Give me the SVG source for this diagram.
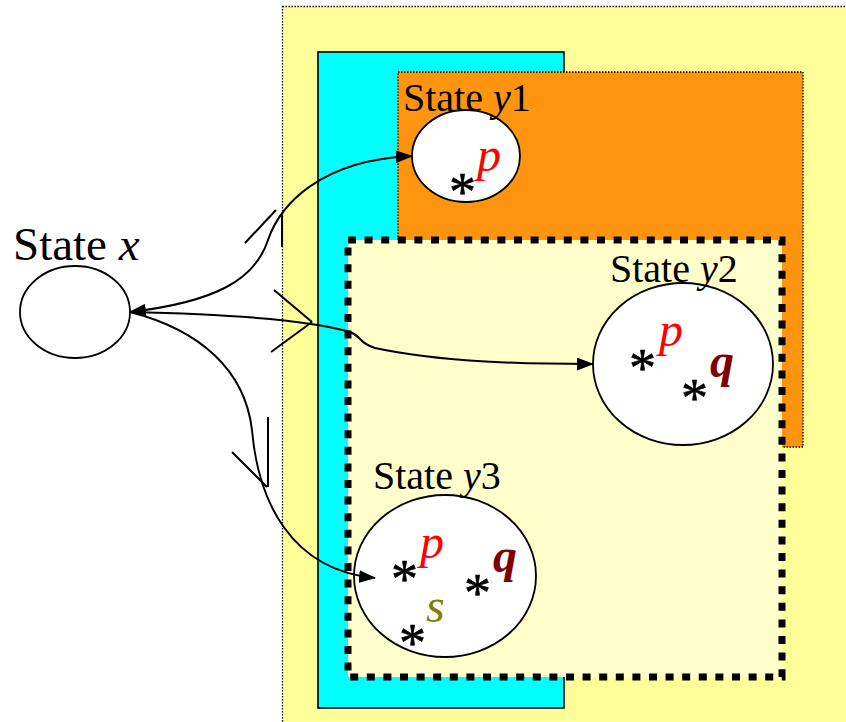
<svg xmlns="http://www.w3.org/2000/svg" width="846" height="722" viewBox="0 0 846 722">
<style>
.lbl{font-family:"Liberation Serif","Times New Roman",serif;font-size:40px;fill:#000}
.it{font-style:italic}
.var{font-family:"Liberation Serif","Times New Roman",serif;font-size:48px;font-style:italic}
.star{font-family:"Liberation Serif","Times New Roman",serif;font-size:54px;fill:#000;stroke:#000;stroke-width:0.6}
.p{fill:#ff0000}
.q{fill:#800000;font-weight:bold}
.s{fill:#808000}
.node{fill:#fff;stroke:#000;stroke-width:1.8}
.thin{stroke:#000;stroke-width:1.3;stroke-dasharray:1.5 1.5}
.conn{fill:none;stroke:#000;stroke-width:2}
</style>
<defs>
<marker id="arr" viewBox="0 0 16 12" refX="15" refY="6" markerWidth="17" markerHeight="13" markerUnits="userSpaceOnUse" orient="auto-start-reverse">
<path d="M0,0 L16,6 L0,12 Z" fill="#000"/>
</marker>
</defs>
<rect width="846" height="722" fill="#fff"/>
<g id="regions">
<rect x="282.5" y="6.5" width="600" height="740" fill="#ffff99" class="thin"/>
<rect x="318" y="52" width="246" height="656" fill="#00ffff" stroke="#000" stroke-width="1.6"/>
<rect x="398" y="72" width="405" height="375" fill="#ff950e" class="thin"/>
<rect x="348" y="240" width="434" height="437" fill="#ffffcc" stroke="#000" stroke-width="7" stroke-dasharray="8 8.6"/>
</g>
<g id="stateX">
<ellipse class="node" cx="75" cy="312" rx="55" ry="46"/>
<text class="lbl" x="13" y="260" style="font-size:47px">State <tspan class="it">x</tspan></text>
</g>
<g id="stateY1">
<ellipse class="node" cx="466" cy="156" rx="54" ry="46"/>
<text class="lbl" x="403" y="111">State <tspan class="it">y</tspan>1</text>
<text class="star" x="449" y="210">*</text>
<text class="var p" x="477" y="171">p</text>
</g>
<g id="stateY2">
<ellipse class="node" cx="683" cy="364" rx="90" ry="81"/>
<text class="lbl" x="610" y="282">State <tspan class="it">y</tspan>2</text>
<text class="star" x="629" y="386">*</text>
<text class="var p" x="659" y="346">p</text>
<text class="star" x="681" y="416">*</text>
<text class="var q" x="710" y="377">q</text>
</g>
<g id="stateY3">
<ellipse class="node" cx="445" cy="576" rx="91" ry="81"/>
<text class="lbl" x="373" y="489">State <tspan class="it">y</tspan>3</text>
<text class="star" x="391" y="597">*</text>
<text class="var p" x="420" y="558">p</text>
<text class="star" x="464" y="611">*</text>
<text class="var q" x="493" y="572">q</text>
<text class="var s" x="426" y="622">s</text>
<text class="star" x="399" y="661">*</text>
</g>
<g id="connectors">
<path class="conn" d="M130,312 C215,302 255,280 268,240 C280,205 320,160 412,156" marker-start="url(#arr)" marker-end="url(#arr)"/>
<path class="conn" d="M130,312 C220,314 310,320 350,332 C362,336 358,343 375,348 C440,362 520,364 593,364" marker-end="url(#arr)"/>
<path class="conn" d="M130,312 C200,330 245,370 252,430 C258,500 290,570 375,578" marker-end="url(#arr)"/>
<line class="conn" x1="245" y1="243" x2="276" y2="210"/>
<line class="conn" x1="282" y1="215" x2="282" y2="247"/>
<line class="conn" x1="274" y1="290" x2="312" y2="322"/>
<line class="conn" x1="271" y1="352" x2="312" y2="322"/>
<line class="conn" x1="232" y1="452" x2="267" y2="487"/>
<line class="conn" x1="268" y1="417" x2="268" y2="487"/>
</g>
</svg>
